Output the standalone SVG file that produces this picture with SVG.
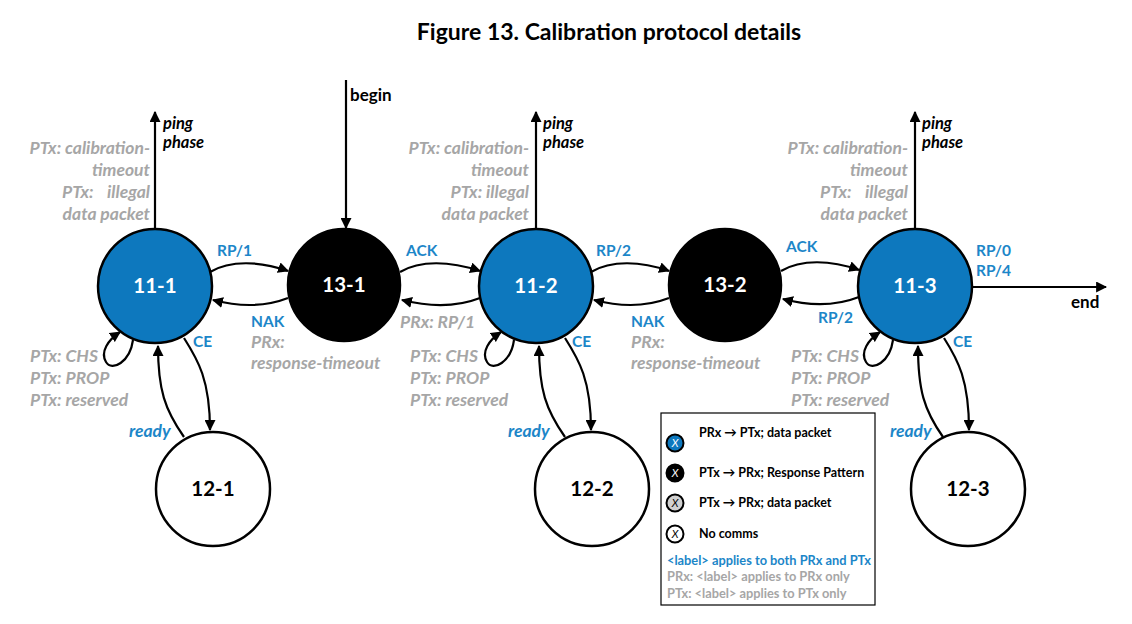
<svg xmlns="http://www.w3.org/2000/svg" width="1132" height="624" viewBox="0 0 1132 624">
<defs>
<marker id="ah" viewBox="0 0 10 10" refX="9" refY="5" markerWidth="11" markerHeight="11" markerUnits="userSpaceOnUse" orient="auto">
<path d="M0,0 L10,5 L0,10 z" fill="#000"/>
</marker>
</defs>
<style>
text{font-family:Lato,"Open Sans","Liberation Sans",sans-serif;font-weight:bold}
.title{font-size:23px;fill:#000}
.node{stroke:#000;stroke-width:2.5}
.blue{fill:#0D78BE}
.black{fill:#000}
.white{fill:#fff}
.nt{font-size:20.5px;text-anchor:middle}
.ntw{fill:#fff}
.ntb{fill:#000}
.lb{font-size:15.5px;fill:#1C86C8}
.lbi{font-size:17.5px;fill:#1C86C8;font-style:italic}
.gr{font-size:17.5px;fill:#A6A6A6;font-style:italic}
.gre{font-size:17.5px;fill:#A6A6A6;font-style:italic;text-anchor:end}
.bk{font-size:17px;fill:#000}
.bki{font-size:16.5px;fill:#000;font-style:italic}
.conn path,.conn line{stroke:#000;stroke-width:2.2;fill:none;marker-end:url(#ah)}
.lg{font-size:12.5px;fill:#000}
.lgb{font-size:12.8px;fill:#1C86C8}
.lgg{font-size:12.8px;fill:#A6A6A6}
.lc{stroke:#000;stroke-width:2}
.lx{font-size:11px;font-style:italic;text-anchor:middle;font-weight:normal}
</style>
<rect width="1132" height="624" fill="#fff"/>
<text class="title" x="609" y="40" text-anchor="middle">Figure 13. Calibration protocol details</text>

<g class="conn" id="connectors">
<line x1="155" y1="229" x2="155" y2="112"/>
<line x1="536" y1="229" x2="536" y2="112"/>
<line x1="915" y1="229" x2="915" y2="112"/>
<line x1="346" y1="80" x2="346" y2="228"/>
<line x1="972" y1="287" x2="1106" y2="287"/>
<path d="M210,272 C230,260 260,261 288,271"/>
<path d="M288,298 C265,307 240,307 213,300"/>
<path d="M400,272 C420,260 450,261 480,271"/>
<path d="M480,298 C457,307 430,307 402,300"/>
<path d="M591,272 C611,260 641,261 669,271"/>
<path d="M669,298 C646,307 621,307 594,300"/>
<path d="M781,271 C801,259 831,260 859,270"/>
<path d="M859,297 C836,306 809,306 783,299"/>
<path d="M133,340 C130,362 112,372 106,362 C100,352 108,340 120,332"/>
<path d="M514,340 C511,362 493,372 487,362 C481,352 489,340 501,332"/>
<path d="M893,340 C890,362 872,372 866,362 C860,352 868,340 880,332"/>
<path d="M184,338 C198,360 210,380 210,430"/>
<path d="M565,338 C579,360 591,380 591,430"/>
<path d="M944,338 C958,360 969,380 969,430"/>
<path d="M184,437 C165,410 158,390 158,346"/>
<path d="M565,437 C546,410 539,390 539,346"/>
<path d="M943,437 C924,410 918,390 918,346"/>
</g>

<g id="n11-1"><circle class="node blue" cx="155" cy="286" r="57"/><text class="nt ntw" x="155" y="293">11-1</text></g>
<g id="n13-1"><circle class="node black" cx="344" cy="285" r="56"/><text class="nt ntw" x="344" y="292">13-1</text></g>
<g id="n11-2"><circle class="node blue" cx="536" cy="286" r="57"/><text class="nt ntw" x="536" y="293">11-2</text></g>
<g id="n13-2"><circle class="node black" cx="725" cy="285" r="56"/><text class="nt ntw" x="725" y="292">13-2</text></g>
<g id="n11-3"><circle class="node blue" cx="915" cy="286" r="57"/><text class="nt ntw" x="915" y="293">11-3</text></g>
<g id="n12-1"><circle class="node white" cx="213" cy="489" r="57"/><text class="nt ntb" x="213" y="496">12-1</text></g>
<g id="n12-2"><circle class="node white" cx="592" cy="489" r="57"/><text class="nt ntb" x="592" y="496">12-2</text></g>
<g id="n12-3"><circle class="node white" cx="968" cy="489" r="57"/><text class="nt ntb" x="968" y="496">12-3</text></g>

<g id="labels">
<text class="bki" x="163" y="129">ping</text><text class="bki" x="163" y="148">phase</text>
<text class="bki" x="543" y="129">ping</text><text class="bki" x="543" y="148">phase</text>
<text class="bki" x="922" y="129">ping</text><text class="bki" x="922" y="148">phase</text>

<text class="gre" x="150" y="154">PTx: calibration-</text>
<text class="gre" x="150" y="176">timeout</text>
<text class="gr" x="62" y="198">PTx:</text><text class="gre" x="150" y="198">illegal</text>
<text class="gre" x="150" y="220">data packet</text>

<text class="gre" x="529" y="154">PTx: calibration-</text>
<text class="gre" x="529" y="176">timeout</text>
<text class="gre" x="529" y="198">PTx: illegal</text>
<text class="gre" x="529" y="220">data packet</text>

<text class="gre" x="908" y="154">PTx: calibration-</text>
<text class="gre" x="908" y="176">timeout</text>
<text class="gr" x="820" y="198">PTx:</text><text class="gre" x="908" y="198">illegal</text>
<text class="gre" x="908" y="220">data packet</text>

<text class="bk" x="350" y="101">begin</text>
<text class="bk" x="1071" y="308">end</text>

<text class="lb" x="217" y="256">RP/1</text>
<text class="lb" x="251" y="327">NAK</text>
<text class="gr" x="251" y="348">PRx:</text>
<text class="gr" x="251" y="369">response-timeout</text>
<text class="lb" x="406" y="256">ACK</text>
<text class="gr" x="400" y="328">PRx: RP/1</text>

<text class="lb" x="596" y="256">RP/2</text>
<text class="lb" x="631" y="327">NAK</text>
<text class="gr" x="631" y="348">PRx:</text>
<text class="gr" x="631" y="369">response-timeout</text>
<text class="lb" x="786" y="252">ACK</text>
<text class="lb" x="818" y="323">RP/2</text>

<text class="lb" x="976" y="256">RP/0</text>
<text class="lb" x="976" y="276">RP/4</text>

<text class="gr" x="30" y="362">PTx: CHS</text>
<text class="gr" x="30" y="384">PTx: PROP</text>
<text class="gr" x="30" y="406">PTx: reserved</text>
<text class="lb" x="193" y="347">CE</text>
<text class="lbi" x="129" y="437">ready</text>

<text class="gr" x="410" y="362">PTx: CHS</text>
<text class="gr" x="410" y="384">PTx: PROP</text>
<text class="gr" x="410" y="406">PTx: reserved</text>
<text class="lb" x="572" y="347">CE</text>
<text class="lbi" x="508" y="437">ready</text>

<text class="gr" x="791" y="362">PTx: CHS</text>
<text class="gr" x="791" y="384">PTx: PROP</text>
<text class="gr" x="791" y="406">PTx: reserved</text>
<text class="lb" x="953" y="347">CE</text>
<text class="lbi" x="890" y="437">ready</text>
</g>

<g id="legend">
<rect x="661" y="413" width="214" height="192" fill="#fff" stroke="#000" stroke-width="1.2"/>
<circle class="lc" cx="675" cy="443" r="8.5" fill="#0D78BE"/><text class="lx" x="675" y="447" fill="#fff">X</text>
<circle class="lc" cx="675" cy="473" r="8.5" fill="#000"/><text class="lx" x="675" y="477" fill="#fff">X</text>
<circle class="lc" cx="675" cy="503" r="8.5" fill="#D0D0D0"/><text class="lx" x="675" y="507" fill="#000">X</text>
<circle class="lc" cx="675" cy="534" r="8.5" fill="#fff"/><text class="lx" x="675" y="538" fill="#000">X</text>
<text class="lg" x="699" y="437">PRx → PTx; data packet</text>
<text class="lg" x="699" y="477">PTx → PRx; Response Pattern</text>
<text class="lg" x="699" y="507">PTx → PRx; data packet</text>
<text class="lg" x="699" y="538">No comms</text>
<text class="lgb" x="667" y="565">&lt;label&gt; applies to both PRx and PTx</text>
<text class="lgg" x="667" y="581">PRx: &lt;label&gt; applies to PRx only</text>
<text class="lgg" x="667" y="598">PTx: &lt;label&gt; applies to PTx only</text>
</g>
</svg>
